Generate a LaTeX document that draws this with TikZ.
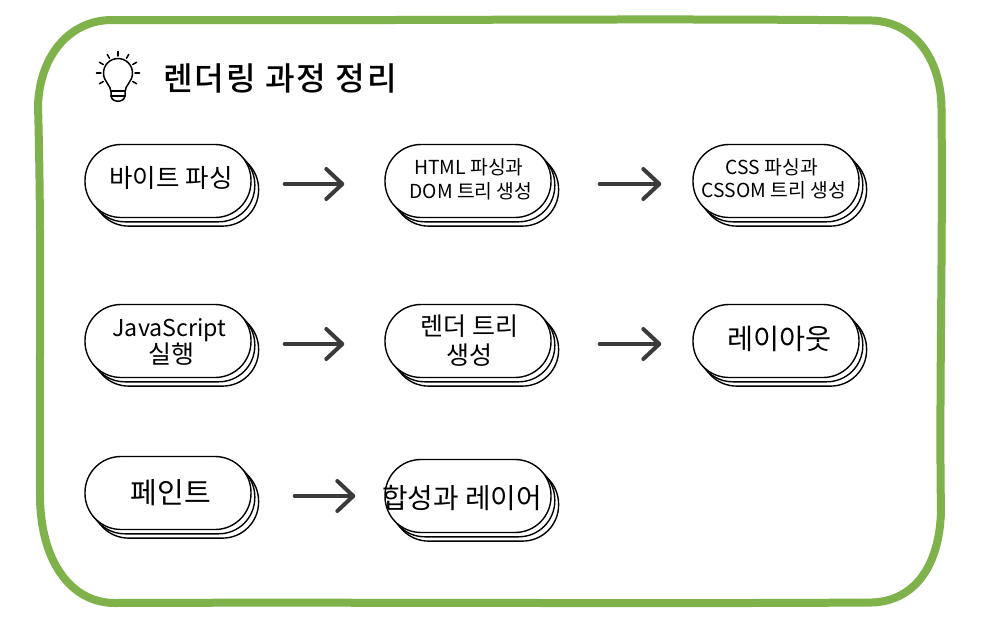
\documentclass[tikz,border=0pt]{standalone}
\usepackage{fontspec}
\setmainfont{Noto Sans CJK KR}
\newfontfamily\titlefont[LetterSpace=6]{Noto Sans CJK KR Medium}
\usetikzlibrary{arrows.meta,shadows,calc}
\definecolor{frameGreen}{HTML}{7FB24A}
\definecolor{arrowGrey}{HTML}{3A3A3A}
% one line of pill text: x offset (twice the shift), baseline offset, text
\newcommand\pilltext[3]{\raisebox{#2}[0pt][0pt]{\makebox[0pt]{\hspace*{#1}#3}}}
\tikzset{
  x=1pt,y=-1pt,
  pill/.style={draw=black,fill=white,line width=1.4pt,rounded corners=36pt,
    minimum width=166pt,minimum height=73pt,inner sep=0pt,align=center,
    copy shadow={shadow xshift=7.6pt,shadow yshift=-8.6pt,draw=black,fill=white},
    copy shadow={shadow xshift=3.8pt,shadow yshift=-4.3pt,draw=black,fill=white}},
  flow/.style={draw=arrowGrey,line width=4pt,line cap=round,
    -{Straight Barb[length=16pt,width=30pt,line width=4pt,round]}},
  bulb/.style={draw=black,line width=1.5pt,line cap=round,line join=round},
}
\begin{document}
\begin{tikzpicture}
\useasboundingbox (0,0) rectangle (989,624);
\fill[white] (0,0) rectangle (989,624);

% outer frame with slightly uneven sides
\draw[frameGreen,line width=8pt,line join=round]
  (112,20) .. controls (400,21) and (650,18) .. (872,20.5)
  .. controls (915,22) and (941,60) .. (941.5,108)
  .. controls (943,250) and (939,400) .. (941,510)
  .. controls (940,565) and (915,601) .. (872,602.5)
  .. controls (650,604) and (350,602) .. (115,603)
  .. controls (70,603) and (40,560) .. (40,495)
  .. controls (39,380) and (42,250) .. (38,105)
  .. controls (40,55) and (70,20) .. cycle;

% lightbulb icon
\draw[bulb] (111,92) .. controls (111,85) and (103.5,82) .. (103.5,73)
  .. controls (103.5,65) and (110,58.5) .. (118,58.5)
  .. controls (126,58.5) and (132.5,65) .. (132.5,73)
  .. controls (132.5,82) and (125,85) .. (125,92) -- (125,96)
  .. controls (124,103) and (112,103) .. (111,96) -- cycle;
\draw[bulb] (111,91) -- (125,91);
\draw[bulb] (111,96) -- (125,96);
\foreach \a in {-120,-90,-60,-30,0,30,60,90,120}
  \draw[bulb] ($(118,73)+(\a-90:17)$) -- ($(118,73)+(\a-90:21.5)$);

\node[anchor=west,inner sep=0pt,font=\titlefont\fontsize{32.2}{36}\selectfont] (title) at (163,78) {렌더링 과정 정리};

% first row
\node[pill,font=\fontsize{25.5}{30}\selectfont] (bytes) at (168,181) {\pilltext{6pt}{-6.9pt}{바이트 파싱}};
\node[pill,font=\fontsize{19.3}{24}\selectfont] (html) at (468,181)
  {\pilltext{2pt}{-5.75pt}{HTML 파싱과}\\\pilltext{6pt}{-5.75pt}{DOM 트리 생성}};
\node[pill,font=\fontsize{19.3}{23}\selectfont] (css) at (776,181)
  {\pilltext{-8pt}{-4.75pt}{CSS 파싱과}\\\pilltext{-4pt}{-4.75pt}{CSSOM 트리 생성}};
% second row
\node[pill,font=\fontsize{23.2}{27}\selectfont] (js) at (168,341)
  {\pilltext{3pt}{-8.7pt}{JavaScript}\\\pilltext{6pt}{-8.7pt}{\fontsize{25}{27}\selectfont 실행}};
\node[pill,font=\fontsize{25}{29}\selectfont] (rtree) at (468,341)
  {\pilltext{3pt}{-9.2pt}{렌더 트리}\\\pilltext{3pt}{-9.2pt}{생성}};
\node[pill,font=\fontsize{28.3}{32}\selectfont] (layout) at (776,341) {\pilltext{7pt}{-8.9pt}{레이아웃}};
% third row
\node[pill,font=\fontsize{29}{33}\selectfont] (paint) at (168,493) {\pilltext{6pt}{-10.15pt}{페인트}};
\node[pill,font=\fontsize{27.8}{32}\selectfont] (comp) at (468,496) {\pilltext{-12pt}{-12.7pt}{합성과 레이어}};

% flow arrows between the steps
\draw[flow,shorten <=33pt,shorten >=40pt] ([yshift=-3pt]bytes.east) -- ([yshift=-3pt]html.west);
\draw[flow,shorten <=48pt,shorten >=31pt] ([yshift=-3pt]html.east) -- ([yshift=-3pt]css.west);
\draw[flow,shorten <=33pt,shorten >=40pt] ([yshift=-3pt]js.east) -- ([yshift=-3pt]rtree.west);
\draw[flow,shorten <=48pt,shorten >=31pt] ([yshift=-3pt]rtree.east) -- ([yshift=-3pt]layout.west);
\draw[flow,shorten <=43pt,shorten >=29pt] ([yshift=-3pt]paint.east) -- (comp.west);
\end{tikzpicture}
\end{document}
